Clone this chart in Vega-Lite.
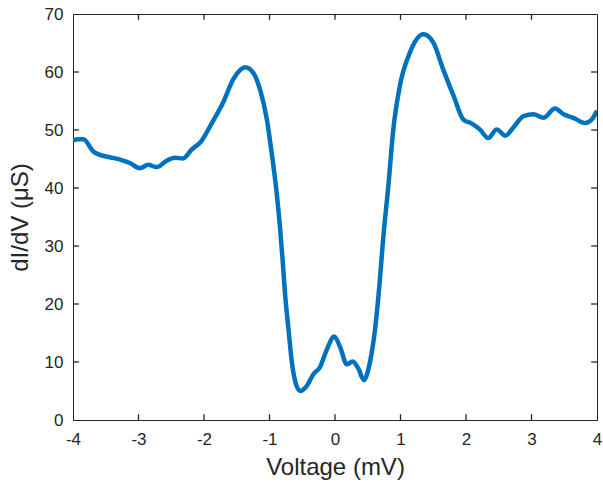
{
  "$schema": "https://vega.github.io/schema/vega-lite/v6.json",
  "width": 524,
  "height": 406,
  "autosize": {"type": "none"},
  "padding": {"left": 73, "top": 14, "right": 6, "bottom": 69},
  "background": "white",
  "config": {
    "font": "Liberation Sans",
    "view": {"stroke": "#262626", "strokeWidth": 1},
    "axis": {
      "grid": false,
      "domainColor": "#262626",
      "labelColor": "#262626",
      "titleColor": "#262626",
      "labelFont": "Liberation Sans",
      "titleFont": "Liberation Sans",
      "labelFontSize": 17,
      "titleFontSize": 24,
      "titleFontWeight": "normal",
      "labelFlush": false,
      "ticks": false
    }
  },
  "datasets": {
    "curve": [
      {"v": -4.0, "g": 48.2},
      {"v": -3.92, "g": 48.4},
      {"v": -3.84, "g": 48.4},
      {"v": -3.69, "g": 46.3},
      {"v": -3.61, "g": 45.8},
      {"v": -3.44, "g": 45.3},
      {"v": -3.28, "g": 44.9},
      {"v": -3.13, "g": 44.3},
      {"v": -2.98, "g": 43.4},
      {"v": -2.85, "g": 44.0},
      {"v": -2.72, "g": 43.6},
      {"v": -2.57, "g": 44.7},
      {"v": -2.44, "g": 45.2},
      {"v": -2.32, "g": 45.1},
      {"v": -2.19, "g": 46.6},
      {"v": -2.04, "g": 48.1},
      {"v": -1.88, "g": 51.2},
      {"v": -1.71, "g": 54.7},
      {"v": -1.55, "g": 58.8},
      {"v": -1.37, "g": 60.8},
      {"v": -1.25, "g": 59.9},
      {"v": -1.145, "g": 57.0},
      {"v": -1.04, "g": 51.8},
      {"v": -0.966, "g": 46.0},
      {"v": -0.89, "g": 39.1},
      {"v": -0.84, "g": 33.3},
      {"v": -0.8, "g": 27.6},
      {"v": -0.763, "g": 21.8},
      {"v": -0.713, "g": 16.0},
      {"v": -0.661, "g": 10.2},
      {"v": -0.611, "g": 6.8},
      {"v": -0.534, "g": 5.0},
      {"v": -0.43, "g": 5.9},
      {"v": -0.33, "g": 7.9},
      {"v": -0.23, "g": 9.1},
      {"v": -0.13, "g": 12.0},
      {"v": -0.01, "g": 14.4},
      {"v": 0.08, "g": 12.5},
      {"v": 0.18, "g": 9.6},
      {"v": 0.27, "g": 10.1},
      {"v": 0.36, "g": 8.8},
      {"v": 0.44, "g": 6.9},
      {"v": 0.534, "g": 10.0},
      {"v": 0.61, "g": 15.5},
      {"v": 0.68, "g": 23.5},
      {"v": 0.738, "g": 31.6},
      {"v": 0.814, "g": 40.3},
      {"v": 0.89, "g": 50.1},
      {"v": 0.99, "g": 57.6},
      {"v": 1.145, "g": 63.4},
      {"v": 1.35, "g": 66.5},
      {"v": 1.5, "g": 65.1},
      {"v": 1.65, "g": 60.5},
      {"v": 1.81, "g": 55.9},
      {"v": 1.96, "g": 51.8},
      {"v": 2.09, "g": 51.1},
      {"v": 2.21, "g": 50.1},
      {"v": 2.34, "g": 48.6},
      {"v": 2.47, "g": 50.1},
      {"v": 2.6, "g": 49.0},
      {"v": 2.72, "g": 50.4},
      {"v": 2.88, "g": 52.4},
      {"v": 3.03, "g": 52.7},
      {"v": 3.18, "g": 52.1},
      {"v": 3.36, "g": 53.7},
      {"v": 3.49, "g": 52.7},
      {"v": 3.64, "g": 52.1},
      {"v": 3.82, "g": 51.2},
      {"v": 3.92, "g": 51.8},
      {"v": 4.0, "g": 53.3}
    ],
    "xticks": [{"t": -3}, {"t": -2}, {"t": -1}, {"t": 0}, {"t": 1}, {"t": 2}, {"t": 3}],
    "yticks": [{"t": 10}, {"t": 20}, {"t": 30}, {"t": 40}, {"t": 50}, {"t": 60}]
  },
  "layer": [
    {
      "data": {"name": "curve"},
      "mark": {"type": "line", "color": "#0072BD", "strokeWidth": 4.5, "interpolate": "monotone", "clip": true},
      "encoding": {
        "x": {
          "field": "v", "type": "quantitative",
          "scale": {"domain": [-4, 4], "nice": false, "zero": false},
          "axis": {"values": [-4, -3, -2, -1, 0, 1, 2, 3, 4], "labelExpr": "'' + datum.value", "labelPadding": 11, "title": "Voltage (mV)", "titlePadding": 8}
        },
        "y": {
          "field": "g", "type": "quantitative",
          "scale": {"domain": [0, 70], "nice": false},
          "axis": {"values": [0, 10, 20, 30, 40, 50, 60, 70], "labelPadding": 10, "title": "dI/dV (μS)", "titlePadding": 12}
        }
      }
    },
    {
      "data": {"name": "xticks"},
      "mark": {"type": "rule", "color": "#262626", "strokeWidth": 1.3},
      "encoding": {
        "x": {"field": "t", "type": "quantitative"},
        "y": {"datum": 0, "type": "quantitative"},
        "y2": {"datum": 1.0}
      }
    },
    {
      "data": {"name": "xticks"},
      "mark": {"type": "rule", "color": "#262626", "strokeWidth": 1.3},
      "encoding": {
        "x": {"field": "t", "type": "quantitative"},
        "y": {"datum": 70, "type": "quantitative"},
        "y2": {"datum": 69.0}
      }
    },
    {
      "data": {"name": "yticks"},
      "mark": {"type": "rule", "color": "#262626", "strokeWidth": 1.3},
      "encoding": {
        "y": {"field": "t", "type": "quantitative"},
        "x": {"datum": -4, "type": "quantitative"},
        "x2": {"datum": -3.91}
      }
    },
    {
      "data": {"name": "yticks"},
      "mark": {"type": "rule", "color": "#262626", "strokeWidth": 1.3},
      "encoding": {
        "y": {"field": "t", "type": "quantitative"},
        "x": {"datum": 4, "type": "quantitative"},
        "x2": {"datum": 3.91}
      }
    }
  ]
}
